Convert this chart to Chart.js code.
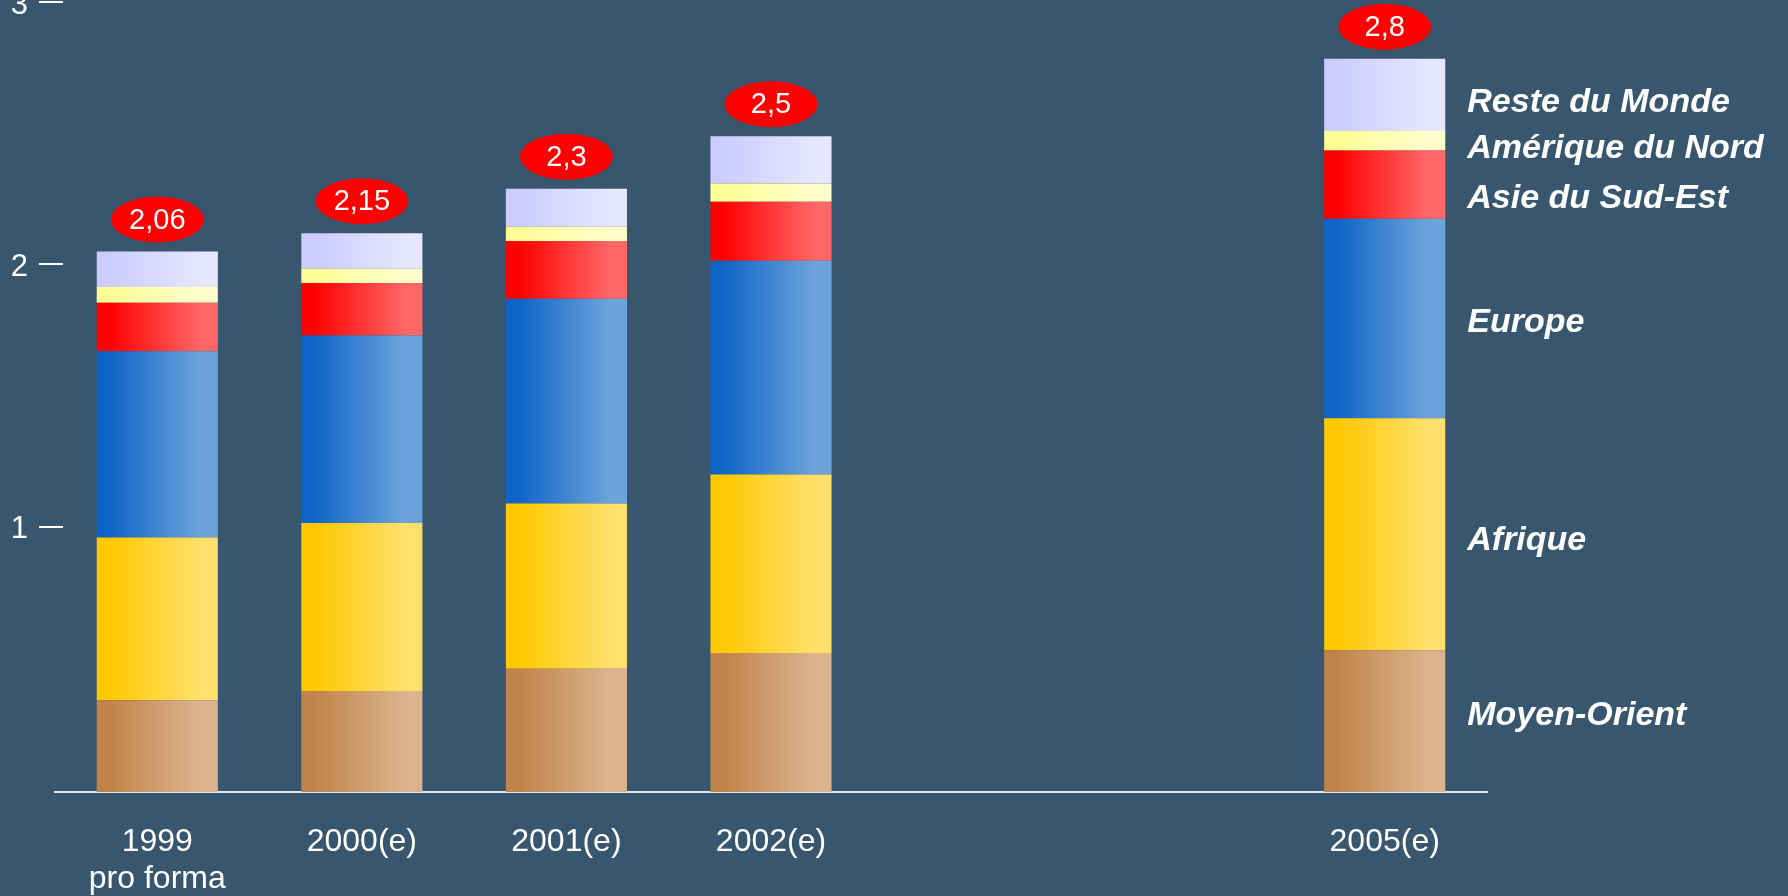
<!DOCTYPE html>
<html>
<head>
<meta charset="utf-8">
<script src="https://cdn.jsdelivr.net/npm/chart.js@4/dist/chart.umd.min.js"></script>
<style>
  html, body { margin: 0; padding: 0; background: #39566f; }
  #wrap { width: 1788px; height: 896px; }
</style>
</head>
<body>
<div id="wrap"><canvas id="regionChart" width="1788" height="896"></canvas></div>
<script>
// categories (2003 and 2004 are empty slots on the axis)
const categories = [['1999', 'pro forma'], '2000(e)', '2001(e)', '2002(e)', '', '', '2005(e)'];
const totalLabels = ['2,06', '2,15', '2,3', '2,5', '', '', '2,8'];
const yTicks = [1, 2, 3];

// series, bottom to top
const moyenOrient = [0.35, 0.385, 0.47, 0.53, null, null, 0.54];
const afrique     = [0.62, 0.64, 0.63, 0.68, null, null, 0.885];
const europe      = [0.71, 0.715, 0.78, 0.815, null, null, 0.76];
const asieSudEst  = [0.185, 0.2, 0.22, 0.225, null, null, 0.26];
const ameriqueNord = [0.06, 0.055, 0.055, 0.07, null, null, 0.075];
const resteMonde  = [0.135, 0.135, 0.145, 0.18, null, null, 0.275];

const FONT = '"Liberation Sans", Arial, sans-serif';
const BAR_PCT = 0.592;

// left-to-right shading inside each bar
function barGradient(c0, c1) {
  return (ctx) => {
    const chart = ctx.chart;
    if (!chart.chartArea || ctx.dataIndex === undefined) return c0;
    const x = chart.scales.x;
    const cx = x.getPixelForValue(ctx.dataIndex);
    const half = x.width / categories.length * BAR_PCT / 2;
    const g = chart.ctx.createLinearGradient(cx - half, 0, cx + half, 0);
    g.addColorStop(0, c0);
    g.addColorStop(0.1, c0);
    g.addColorStop(0.85, c1);
    g.addColorStop(1, c1);
    return g;
  };
}

const totalsPlugin = {
  id: 'totals',
  afterDatasetsDraw(chart) {
    const ctx = chart.ctx;
    const top = chart.getDatasetMeta(chart.data.datasets.length - 1);
    ctx.save();
    totalLabels.forEach((txt, i) => {
      if (!txt) return;
      const el = top.data[i];
      const cx = el.x, cy = el.y - 32;
      ctx.fillStyle = '#ff0000';
      ctx.beginPath();
      ctx.ellipse(cx, cy, 46.5, 23, 0, 0, Math.PI * 2);
      ctx.fill();
      ctx.fillStyle = '#ffffff';
      ctx.font = '29px ' + FONT;
      ctx.textAlign = 'center';
      ctx.textBaseline = 'middle';
      ctx.fillText(txt, cx, cy + 1);
    });
    ctx.restore();
  }
};

// region names beside the last bar
const regionLabels = {
  id: 'regionLabels',
  afterDatasetsDraw(chart) {
    const ctx = chart.ctx;
    const last = categories.length - 1;
    const nudge = [-6, 6, 4, 14, 8, 8];
    ctx.save();
    ctx.fillStyle = '#ffffff';
    ctx.font = 'italic bold 34px ' + FONT;
    ctx.textAlign = 'left';
    ctx.textBaseline = 'middle';
    chart.data.datasets.forEach((ds, i) => {
      const el = chart.getDatasetMeta(i).data[last];
      const y = (el.y + el.base) / 2 + nudge[i];
      ctx.fillText(ds.label, el.x + el.width / 2 + 22, y);
    });
    ctx.restore();
  }
};

// short dashes next to the y tick values
const tickDashes = {
  id: 'tickDashes',
  afterDraw(chart) {
    const ctx = chart.ctx;
    const y = chart.scales.y;
    const left = chart.chartArea.left;
    ctx.save();
    ctx.strokeStyle = '#ffffff';
    ctx.lineWidth = 2;
    yTicks.forEach(v => {
      const py = Math.round(y.getPixelForValue(v)) - 3;
      ctx.beginPath();
      ctx.moveTo(left - 16, py);
      ctx.lineTo(left + 8, py);
      ctx.stroke();
    });
    ctx.restore();
  }
};

new Chart(document.getElementById('regionChart'), {
  type: 'bar',
  data: {
    labels: categories,
    datasets: [
      { label: 'Moyen-Orient', data: moyenOrient, backgroundColor: barGradient('#c0834a', '#dbb48f') },
      { label: 'Afrique', data: afrique, backgroundColor: barGradient('#ffc800', '#ffe06c') },
      { label: 'Europe', data: europe, backgroundColor: barGradient('#0e64c6', '#6ca3dc') },
      { label: 'Asie du Sud-Est', data: asieSudEst, backgroundColor: barGradient('#ff0000', '#ff6666') },
      { label: 'Amérique du Nord', data: ameriqueNord, backgroundColor: barGradient('#ffff96', '#ffffcc') },
      { label: 'Reste du Monde', data: resteMonde, backgroundColor: barGradient('#ccccff', '#e6e6ff') }
    ]
  },
  options: {
    responsive: false,
    animation: false,
    layout: { padding: { top: 5, right: 301, left: 0, bottom: 0 } },
    datasets: {
      bar: { barPercentage: 1, categoryPercentage: BAR_PCT, borderWidth: 0 }
    },
    plugins: {
      legend: { display: false },
      tooltip: { enabled: false }
    },
    scales: {
      x: {
        stacked: true,
        grid: { display: false, drawTicks: false },
        border: { display: true, color: '#e6e6ee', width: 2 },
        ticks: {
          color: '#ffffff',
          font: { family: FONT, size: 32, lineHeight: 1.18 },
          padding: 31,
          maxRotation: 0,
          autoSkip: false
        },
        afterFit: s => { s.height = 104; s.paddingLeft = 0; s.paddingRight = 0; }
      },
      y: {
        stacked: true,
        min: 0,
        max: 3,
        grid: { display: false, drawTicks: false },
        border: { display: false },
        ticks: {
          stepSize: 1,
          color: '#ffffff',
          font: { family: FONT, size: 31 },
          padding: 27,
          callback: v => (v === 0 ? '' : String(v))
        },
        afterFit: s => { s.width = 55; s.paddingTop = 0; s.paddingBottom = 0; }
      }
    }
  },
  plugins: [totalsPlugin, regionLabels, tickDashes]
});
</script>
</body>
</html>
